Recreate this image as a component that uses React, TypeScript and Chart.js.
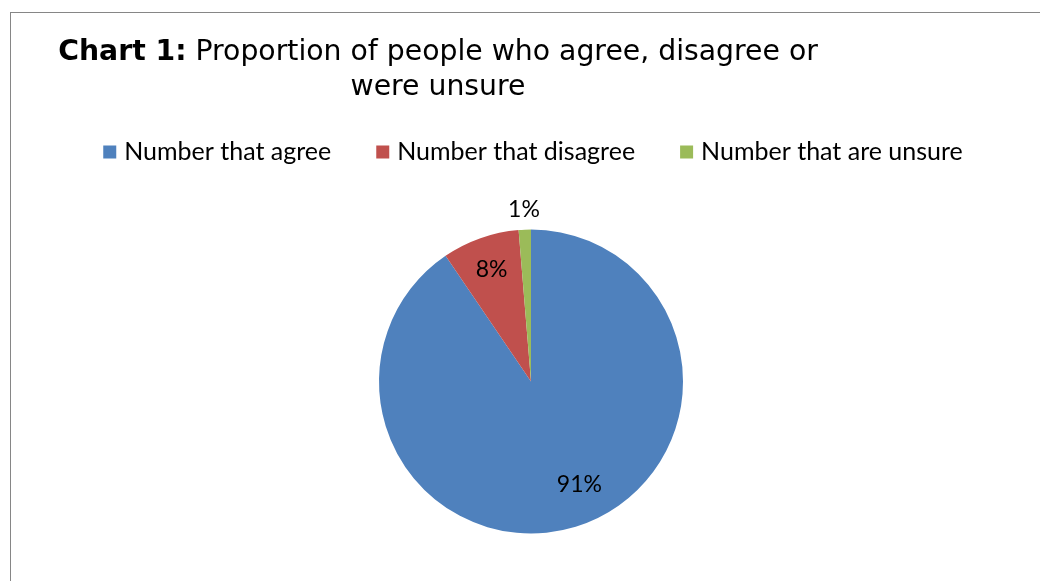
import { useEffect, useRef } from "react";
import { Chart, registerables } from "chart.js";

Chart.register(...registerables);

const categories = ["Number that agree", "Number that disagree", "Number that are unsure"];
const shares = [90.5, 8.2, 1.3];
const colors = ["#4F81BD", "#C0504D", "#9BBB59"];
const titleBold = "Chart 1:";
const titleRest = " Proportion of people who agree, disagree or";
const titleLine2 = "were unsure";
const labelRadius = [0.75, 0.78, 1.13];
const labelAngleShiftDeg = [-8, 0, 0];

const TITLE_FONT = "'DejaVu Sans', sans-serif";
const BODY_FONT = "Lato, 'Open Sans', sans-serif";

const titlePlugin = {
  id: "customTitle",
  afterDraw(chart: any) {
    const ctx = chart.ctx;
    ctx.save();
    ctx.fillStyle = "#000";
    ctx.textBaseline = "alphabetic";
    ctx.textAlign = "left";
    const cx = 438;
    const size = 28.3;
    ctx.font = `bold ${size}px ${TITLE_FONT}`;
    const wb = ctx.measureText(titleBold).width;
    ctx.font = `${size}px ${TITLE_FONT}`;
    const wr = ctx.measureText(titleRest).width;
    const x = cx - (wb + wr) / 2;
    ctx.font = `bold ${size}px ${TITLE_FONT}`;
    ctx.fillText(titleBold, x, 60);
    ctx.font = `${size}px ${TITLE_FONT}`;
    ctx.fillText(titleRest, x + wb, 60);
    ctx.textAlign = "center";
    ctx.fillText(titleLine2, cx, 95);
    ctx.restore();
  },
};

const legendPlugin = {
  id: "customLegend",
  afterDraw(chart: any) {
    const ctx = chart.ctx;
    ctx.save();
    ctx.font = `25px ${BODY_FONT}`;
    const box = 13;
    const gapText = 8;
    const gapItem = 45;
    const widths = categories.map((c) => box + gapText + ctx.measureText(c).width);
    const total = widths.reduce((a, b) => a + b, 0) + gapItem * (categories.length - 1);
    let x = 533 - total / 2;
    const cy = 152;
    categories.forEach((c, i) => {
      ctx.fillStyle = colors[i];
      ctx.fillRect(x, cy - box / 2, box, box);
      ctx.fillStyle = "#000";
      ctx.textBaseline = "middle";
      ctx.textAlign = "left";
      ctx.fillText(c, x + box + gapText, cy);
      x += widths[i] + gapItem;
    });
    ctx.restore();
  },
};

const labelPlugin = {
  id: "sliceLabels",
  afterDatasetsDraw(chart: any) {
    const ctx = chart.ctx;
    const meta = chart.getDatasetMeta(0);
    const data = chart.data.datasets[0].data as number[];
    const sum = data.reduce((a, b) => a + b, 0);
    ctx.save();
    ctx.font = `23px ${BODY_FONT}`;
    ctx.fillStyle = "#000";
    ctx.textAlign = "center";
    ctx.textBaseline = "middle";
    meta.data.forEach((arc: any, i: number) => {
      const p = arc.getProps(["x", "y", "startAngle", "endAngle", "outerRadius"], true);
      const mid = (p.startAngle + p.endAngle) / 2 + (labelAngleShiftDeg[i] * Math.PI) / 180;
      const r = p.outerRadius * labelRadius[i];
      const txt = Math.round((data[i] / sum) * 100) + "%";
      ctx.fillText(txt, p.x + Math.cos(mid) * r, p.y + Math.sin(mid) * r);
    });
    ctx.restore();
  },
};

export default function App() {
  const ref = useRef<HTMLCanvasElement | null>(null);
  useEffect(() => {
    if (!ref.current) return;
    const chart = new Chart(ref.current, {
      type: "pie",
      data: {
        labels: categories,
        datasets: [
          {
            data: shares,
            backgroundColor: colors,
            borderWidth: 0,
            offset: 0,
            hoverOffset: 0,
          } as any,
        ],
      },
      options: {
        responsive: false,
        animation: false,
        devicePixelRatio: 1,
        layout: { padding: { top: 229.5, bottom: 47.5, left: 22, right: 0 } },
        plugins: {
          legend: { display: false },
          title: { display: false },
          tooltip: { enabled: false },
        },
      } as any,
      plugins: [titlePlugin, legendPlugin, labelPlugin],
    });
    return () => chart.destroy();
  }, []);

  return (
    <div
      style={{
        position: "fixed",
        left: 0,
        top: 0,
        width: 1040,
        height: 581,
        overflow: "hidden",
        background: "#fff",
      }}
    >
      <div
        style={{
          position: "absolute",
          left: 10,
          top: 12,
          width: 1100,
          height: 700,
          border: "1px solid #868686",
        }}
      />
      <canvas
        ref={ref}
        width={1040}
        height={581}
        style={{ position: "absolute", left: 0, top: 0, width: 1040, height: 581 }}
      />
    </div>
  );
}
